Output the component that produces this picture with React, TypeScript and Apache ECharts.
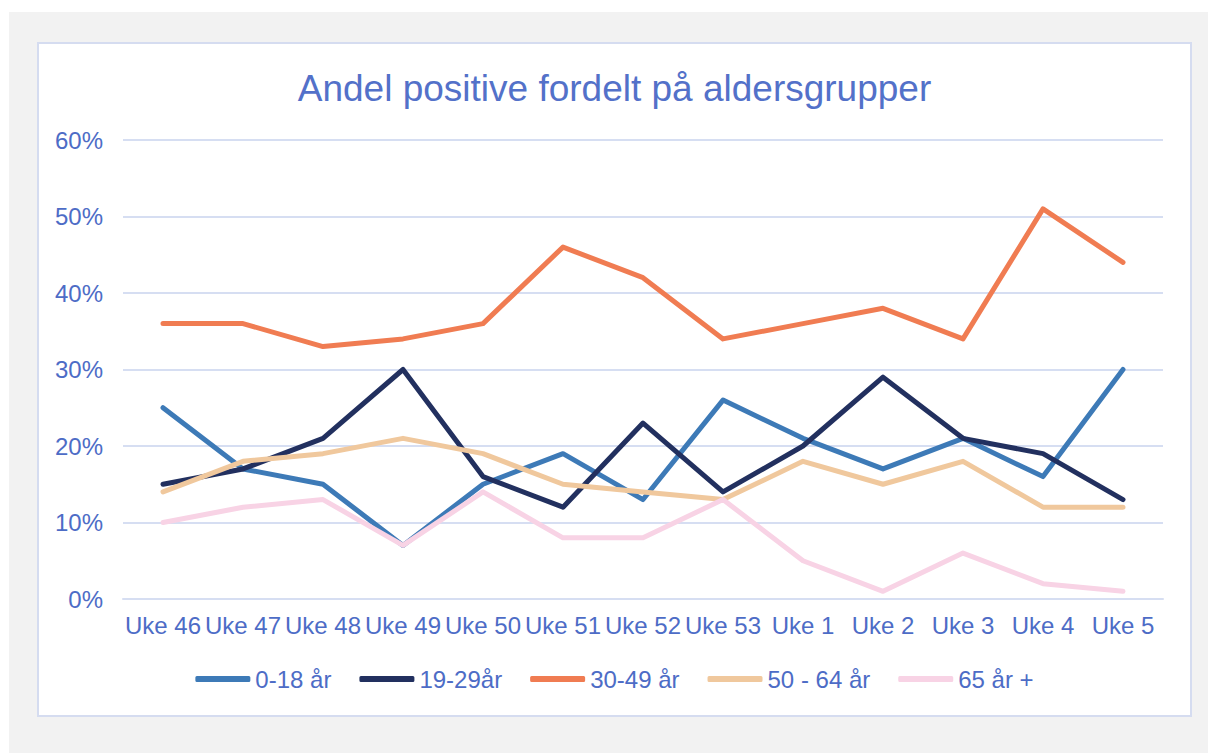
import React, { useEffect, useRef } from "react";
import * as echarts from "echarts";

const categories = ["Uke 46", "Uke 47", "Uke 48", "Uke 49", "Uke 50", "Uke 51", "Uke 52", "Uke 53", "Uke 1", "Uke 2", "Uke 3", "Uke 4", "Uke 5"];
const age0to18 = [25, 17, 15, 7, 15, 19, 13, 26, 21, 17, 21, 16, 30];
const age19to29 = [15, 17, 21, 30, 16, 12, 23, 14, 20, 29, 21, 19, 13];
const age30to49 = [36, 36, 33, 34, 36, 46, 42, 34, 36, 38, 34, 51, 44];
const age50to64 = [14, 18, 19, 21, 19, 15, 14, 13, 18, 15, 18, 12, 12];
const age65plus = [10, 12, 13, 7, 14, 8, 8, 13, 5, 1, 6, 2, 1];
const seriesNames = ["0-18 år", "19-29år", "30-49 år", "50 - 64 år", "65 år +"];
const seriesColors = ["#3d7ab7", "#22305f", "#f07c52", "#f0c89d", "#f8d3e5"];
const yTicks = { min: 0, max: 60, interval: 10 };

const FONT = "'Liberation Sans', Arial, sans-serif";
const TEXT = "#4d6cc6";

export default function App() {
  const ref = useRef<HTMLDivElement>(null);
  useEffect(() => {
    if (!ref.current) return;
    const chart = echarts.init(ref.current, null, { renderer: "svg" });
    const data = [age0to18, age19to29, age30to49, age50to64, age65plus];
    chart.setOption({
      animation: false,
      backgroundColor: "#ffffff",
      textStyle: { fontFamily: FONT },
      title: {
        text: "Andel positive fordelt på aldersgrupper",
        left: "center",
        top: 21,
        textStyle: { color: "#5371c9", fontSize: 37, fontWeight: "normal", fontFamily: FONT },
      },
      legend: {
        data: seriesNames,
        left: "center",
        top: 618,
        icon: "roundRect",
        itemWidth: 55,
        itemHeight: 6,
        itemGap: 28,
        textStyle: { color: TEXT, fontSize: 24, fontFamily: FONT },
      },
      grid: { left: 84, right: 27, top: 96, bottom: 116, containLabel: false },
      xAxis: {
        type: "category",
        data: categories,
        boundaryGap: true,
        axisLine: { show: true, lineStyle: { color: "#d6def2", width: 2 } },
        axisTick: { show: false },
        axisLabel: { color: TEXT, fontSize: 24, margin: 14, fontFamily: FONT, interval: 0 },
        splitLine: { show: false },
      },
      yAxis: {
        type: "value",
        min: yTicks.min,
        max: yTicks.max,
        interval: yTicks.interval,
        axisLine: { show: false },
        axisTick: { show: false },
        axisLabel: { color: TEXT, fontSize: 24, margin: 20, fontFamily: FONT, formatter: "{value}%" },
        splitLine: { show: true, lineStyle: { color: "#d6def2", width: 2 } },
      },
      series: seriesNames.map((name, i) => ({
        name,
        type: "line",
        data: data[i],
        symbol: "none",
        color: seriesColors[i],
        lineStyle: { width: 5, color: seriesColors[i], cap: "round", join: "round" },
        itemStyle: { color: seriesColors[i] },
      })),
    });
    return () => chart.dispose();
  }, []);

  return (
    <div style={{ position: "absolute", left: 0, top: 0, width: 1208, height: 753, background: "#ffffff" }}>
      <div style={{ position: "absolute", left: 9, top: 12, width: 1199, height: 741, background: "#f2f2f2" }} />
      <div
        style={{
          position: "absolute",
          left: 37,
          top: 42,
          width: 1155,
          height: 675,
          border: "2px solid #d5dcf0",
          boxSizing: "border-box",
          background: "#ffffff",
        }}
      >
        <div ref={ref} style={{ width: 1151, height: 671 }} />
      </div>
    </div>
  );
}
